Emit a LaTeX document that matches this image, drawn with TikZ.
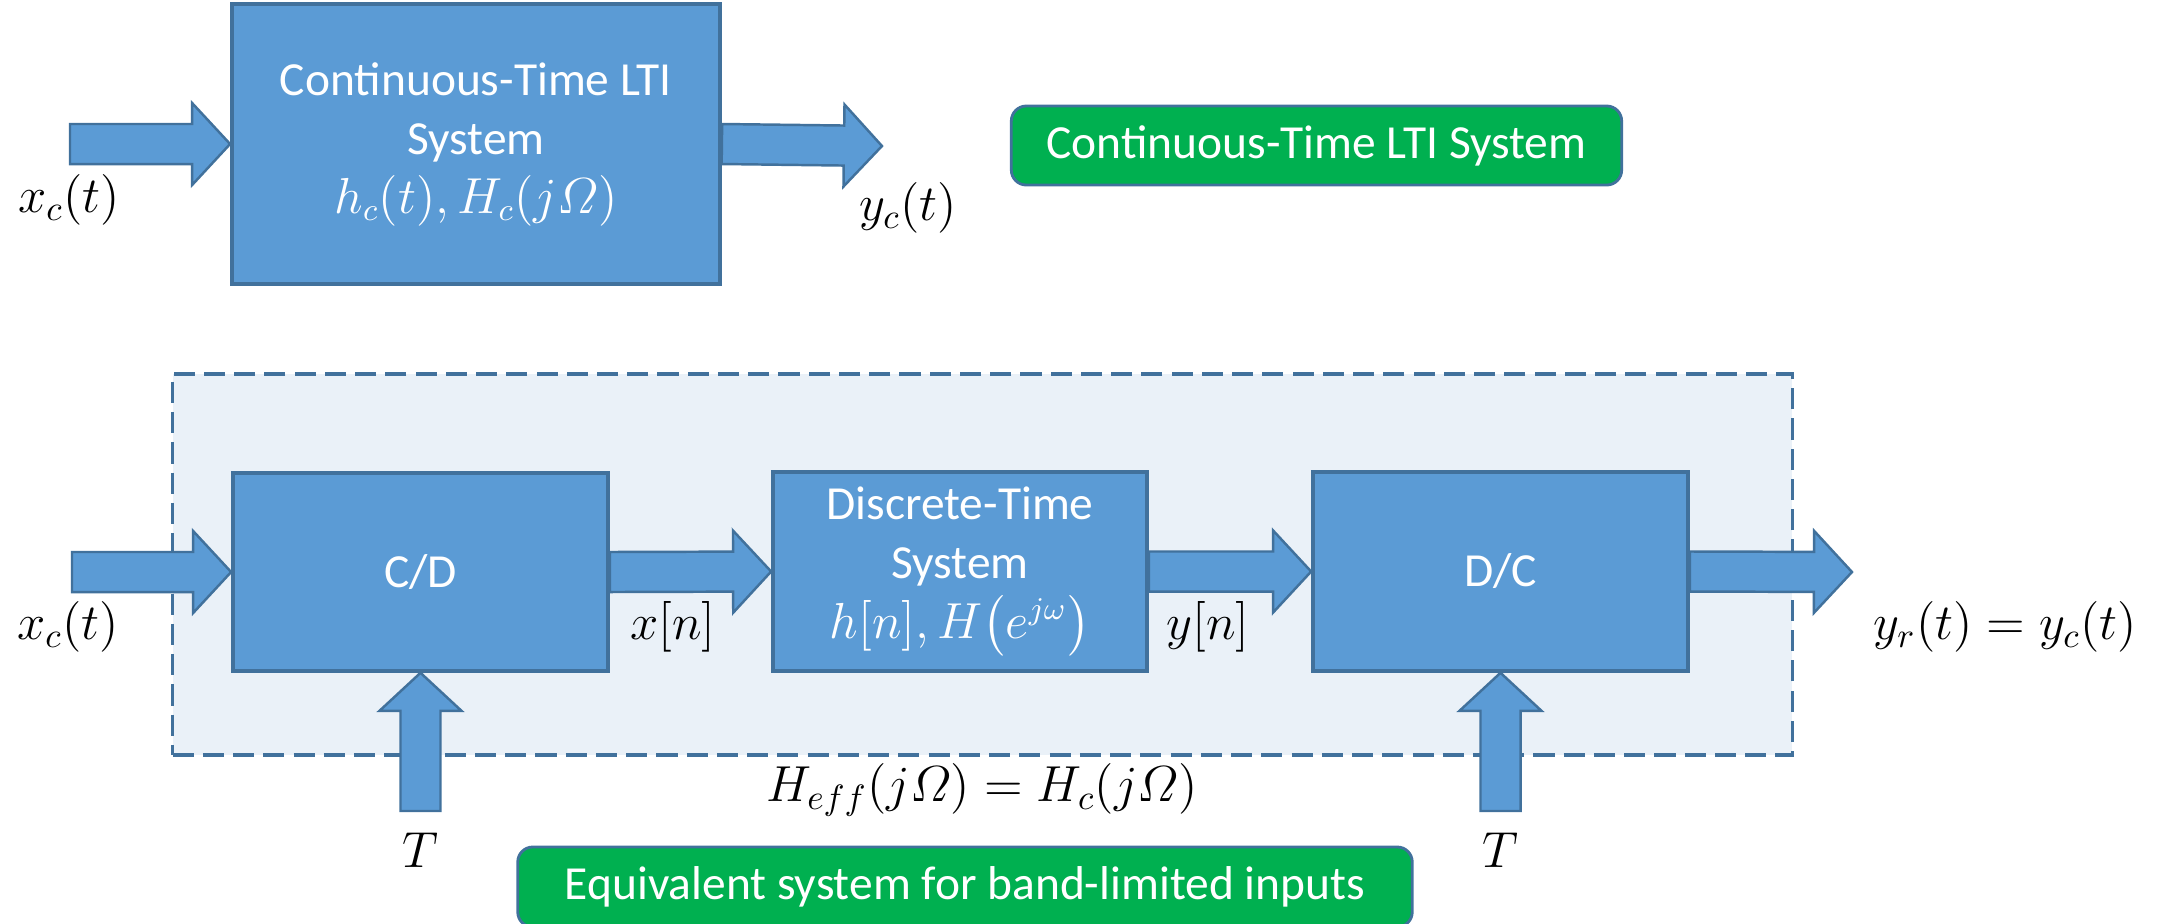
\documentclass[tikz,border=0pt]{standalone}
\usepackage{amsmath}
\usepackage{fontspec}
\newfontfamily\calibri{Carlito}
\usetikzlibrary{calc}

\definecolor{boxblue}{RGB}{91,155,213}
\definecolor{edgeblue}{RGB}{65,113,156}
\definecolor{taggreen}{RGB}{0,176,80}
\definecolor{bgblue}{RGB}{234,241,248}

% wide block arrow from #1 to the tip #2
\newcommand{\blockarrow}[2]{%
  \coordinate (ba) at ($(#2)!0.38cm!(#1)$);
  \filldraw[barrow] ($(#1)!0.2cm!90:(#2)$) -- ($(ba)!0.2cm!90:(#2)$) -- ($(ba)!0.41cm!90:(#2)$)
    -- (#2) -- ($(ba)!0.41cm!-90:(#2)$) -- ($(ba)!0.2cm!-90:(#2)$) -- ($(#1)!0.2cm!-90:(#2)$) -- cycle;}

\begin{document}
\begin{tikzpicture}[x=0.01cm, y=-0.01cm,
    block/.style={rectangle, draw=edgeblue, fill=boxblue, line width=1pt, text=white, align=center,
        inner sep=0pt, font=\calibri\fontsize{13.5}{16.8}\selectfont},
    tag/.style={rectangle, rounded corners=0.15cm, draw=edgeblue, fill=taggreen, line width=0.8pt, text=white,
        inner sep=0pt, font=\calibri\fontsize{13.5}{16.5}\selectfont},
    dashbox/.style={rectangle, draw=edgeblue, fill=bgblue, line width=1pt, dash pattern=on 6pt off 2.6pt, inner sep=0pt},
    barrow/.style={draw=edgeblue, fill=boxblue, line width=0.7pt},
    sig/.style={inner sep=0pt, font=\fontsize{14}{17}\selectfont}
]
    \useasboundingbox (0,0) rectangle (2159,923);

    % continuous-time system
    \node[block, minimum width=4.88cm, minimum height=2.8cm] (lti) at (476,144)
        {Continuous-Time LTI\\System\\$h_c(t), H_c(j\varOmega)$};
    \node[tag, minimum width=6.1cm, minimum height=0.79cm] (tag1) at (1316.5,145.5) {Continuous-Time LTI System};

    \coordinate (in1) at (70,144);
    \coordinate (out1) at (882,146);
    \blockarrow{in1}{lti.west}
    \blockarrow{lti.east}{out1}
    \node[sig] (xc1) at (69,200) {$x_c(t)$};
    \node[sig] (yc1) at (908,208) {$y_c(t)$};

    % discrete-time processing
    \node[dashbox, minimum width=16.19cm, minimum height=3.81cm] (equiv) at (982.5,564.5) {};

    \node[block, minimum width=3.75cm, minimum height=1.98cm] (cd) at (420.5,572) {C/D};
    \node[block, minimum width=3.74cm, minimum height=1.99cm] (dt) at (960,571.5)
        {Discrete-Time\\System\\$h[n], H\bigl(e^{j\omega}\bigr)$};
    \node[block, minimum width=3.75cm, minimum height=1.99cm] (dc) at (1500.5,571.5) {D/C};

    \coordinate (in2) at (72,572);
    \coordinate (out2) at (1852,572);
    \coordinate (clk1) at (420.5,811);
    \coordinate (clk2) at (1500.5,811);
    \blockarrow{in2}{cd.west}
    \blockarrow{cd.east}{dt.west}
    \blockarrow{dt.east}{dc.west}
    \blockarrow{dc.east}{out2}
    \blockarrow{clk1}{cd.south}
    \blockarrow{clk2}{dc.south}

    \node[sig] (xc2) at (68,627) {$x_c(t)$};
    \node[sig] (xn) at (673,627) {$x[n]$};
    \node[sig] (yn) at (1208,627) {$y[n]$};
    \node[sig] (yr) at (2005,627) {$y_r(t) = y_c(t)$};
    \node[sig] (T1) at (420.5,850) {$T$};
    \node[sig] (T2) at (1500.5,850) {$T$};
    \node[sig] (heff) at (982,790) {$H_{eff}(j\varOmega) = H_c(j\varOmega)$};

    \node[tag, minimum width=8.94cm, minimum height=0.8cm] (tag2) at (965,887) {Equivalent system for band-limited inputs};
\end{tikzpicture}
\end{document}
